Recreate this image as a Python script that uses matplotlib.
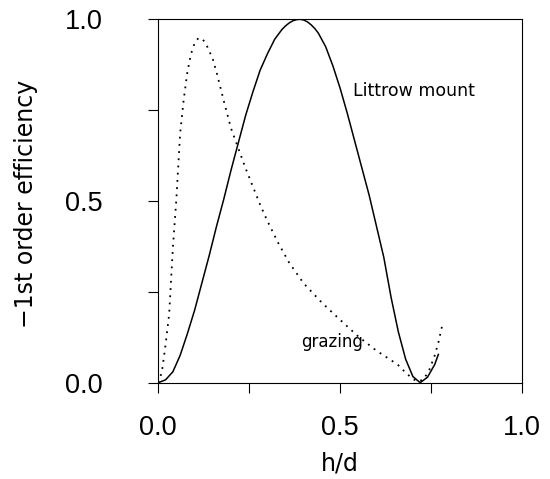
import matplotlib
matplotlib.use('Agg')
import matplotlib.pyplot as plt
from matplotlib.ticker import MultipleLocator

# Littrow mount (solid)
littrow_x = [0.00, 0.02, 0.04, 0.06, 0.08, 0.10, 0.12, 0.14, 0.16, 0.18, 0.20,
             0.22, 0.24, 0.26, 0.28, 0.30, 0.32, 0.34, 0.35, 0.36, 0.37, 0.38,
             0.39, 0.40, 0.41, 0.42, 0.43, 0.44, 0.46, 0.48, 0.50, 0.52, 0.54,
             0.56, 0.58, 0.60, 0.62, 0.64, 0.66, 0.68, 0.70, 0.72, 0.74, 0.76, 0.77]
littrow_y = [0.000, 0.008, 0.030, 0.075, 0.135, 0.200, 0.275, 0.350, 0.430, 0.505, 0.585,
             0.660, 0.735, 0.800, 0.860, 0.905, 0.945, 0.972, 0.982, 0.990, 0.996, 0.999,
             1.000, 0.998, 0.993, 0.985, 0.975, 0.962, 0.925, 0.872, 0.810, 0.740, 0.665,
             0.590, 0.515, 0.430, 0.345, 0.235, 0.140, 0.065, 0.017, 0.000, 0.015, 0.050, 0.078]

# grazing incidence (dotted)
grazing_x = [0.000, 0.010, 0.020, 0.030, 0.040, 0.050, 0.060, 0.070, 0.080, 0.090,
             0.100, 0.110, 0.120, 0.130, 0.140, 0.150, 0.160, 0.180, 0.200, 0.220,
             0.240, 0.260, 0.280, 0.300, 0.330, 0.360, 0.400, 0.450, 0.500, 0.550,
             0.600, 0.640, 0.660, 0.680, 0.700, 0.715, 0.730, 0.745, 0.760, 0.770, 0.780]
grazing_y = [0.000, 0.030, 0.105, 0.190, 0.370, 0.510, 0.685, 0.780, 0.855, 0.905,
             0.935, 0.948, 0.947, 0.935, 0.913, 0.890, 0.855, 0.776, 0.700, 0.645,
             0.590, 0.540, 0.490, 0.445, 0.384, 0.330, 0.273, 0.220, 0.173, 0.127,
             0.088, 0.062, 0.048, 0.028, 0.010, 0.003, 0.010, 0.035, 0.075, 0.110, 0.155]

tick_vals = [0.0, 0.5, 1.0]
tick_labels = ['0.0', '0.5', '1.0']

fig = plt.figure(figsize=(5.5, 4.79), dpi=100)
ax = fig.add_axes([0.2878, 0.2010, 0.6613, 0.7587])

ax.plot(littrow_x, littrow_y, color='black', lw=1.1, solid_joinstyle='round')
ax.plot(grazing_x, grazing_y, color='black', lw=1.3, linestyle=(0, (1, 3)))

ax.set_xlim(0, 1)
ax.set_ylim(0, 1)

ax.set_xticks(tick_vals)
ax.set_yticks(tick_vals)
ax.set_xticklabels(tick_labels, family='Liberation Sans', fontsize=19.5)
ax.set_yticklabels(tick_labels, family='Liberation Sans', fontsize=19.5)
ax.xaxis.set_minor_locator(MultipleLocator(0.25))
ax.yaxis.set_minor_locator(MultipleLocator(0.25))
ax.tick_params(which='both', direction='out', length=7, width=0.8,
               top=False, right=False)
ax.tick_params(axis='x', which='major', pad=16)
ax.tick_params(axis='y', which='major', pad=33)

for s in ax.spines.values():
    s.set_linewidth(0.8)

ax.set_xlabel('h/d', family='DejaVu Sans', fontsize=17)
ax.set_ylabel('\u22121st order efficiency', family='DejaVu Sans', fontsize=17)
ax.xaxis.set_label_coords(0.5, -0.188)
ax.yaxis.set_label_coords(-0.331, 0.492)

ax.text(0.536, 0.788, 'Littrow mount', fontsize=12.5, va='baseline', ha='left')
ax.text(0.394, 0.098, 'grazing', fontsize=12, va='baseline', ha='left')

fig.savefig('out.png', dpi=100)
